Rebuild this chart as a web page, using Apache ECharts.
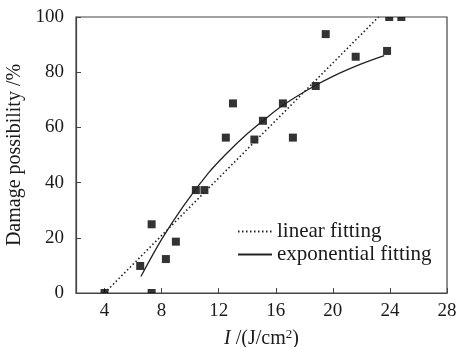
<!DOCTYPE html>
<html>
<head>
<meta charset="utf-8">
<script src="https://cdn.jsdelivr.net/npm/echarts@6/dist/echarts.min.js"></script>
<style>
  html, body { margin: 0; padding: 0; background: #fff; }
  #chart { width: 459px; height: 347px; }
</style>
</head>
<body>
<div id="chart"></div>
<script>
// measured points [I (J/cm2), damage %]
const measured = [
  [4, 0], [7.3, 0], [6.5, 9.8], [7.3, 24.9], [8.3, 12.3], [9.0, 18.6],
  [10.4, 37.3], [11.0, 37.3], [12.5, 56.3], [13.0, 68.7], [14.5, 55.6],
  [15.1, 62.4], [16.5, 68.7], [17.2, 56.3], [18.8, 75.0], [19.5, 93.8],
  [21.6, 85.6], [23.8, 87.7], [23.95, 100], [24.8, 100]
];
// linear fitting line
const linearFit = [[4, 0], [23.2, 100]];
// exponential fitting curve
const expFit = [
  [6.55, 6], [8, 19.4], [9.5, 31.3], [11.3, 43.6], [12.5, 50.3], [14, 57.7],
  [15.1, 62.4], [16.5, 68], [18.4, 74.1], [20, 78.5], [22, 83], [23.6, 86]
];
const xTicks = [4, 8, 12, 16, 20, 24, 28];

const font = 'Liberation Serif';
const axisColor = '#444';
const textColor = '#1a1a1a';

// points sitting on the frame are cut in half by it
const scatterData = measured.map((p) => {
  if (p[1] <= 0) return { value: p, symbolSize: [8, 4], symbolOffset: [0, -2] };
  if (p[1] >= 100) return { value: p, symbolSize: [8, 4], symbolOffset: [0, 2] };
  return { value: p };
});

const chart = echarts.init(document.getElementById('chart'));
chart.setOption({
  animation: false,
  textStyle: { fontFamily: font },
  grid: {
    left: 76, right: 12, top: 17, bottom: 54,
    outerBoundsMode: 'none', containLabel: false,
    show: true, borderColor: axisColor, borderWidth: 1.2
  },
  legend: {
    orient: 'vertical',
    left: 232, top: 216,
    itemWidth: 34, itemHeight: 10, itemGap: 2,
    itemStyle: { opacity: 0 },
    textStyle: { fontFamily: font, fontSize: 21, color: textColor },
    data: ['linear fitting', 'exponential fitting']
  },
  xAxis: {
    type: 'value', min: 2, max: 28,
    name: '{i|I} /(J/cm{sup|2})',
    nameLocation: 'middle', nameGap: 35,
    nameTextStyle: {
      fontFamily: font, fontSize: 20, color: textColor,
      rich: {
        i: { fontFamily: font, fontSize: 20, fontStyle: 'italic', color: textColor },
        sup: { fontFamily: font, fontSize: 13, color: textColor, verticalAlign: 'top', padding: [0, 0, 8, 0] }
      }
    },
    axisLine: { lineStyle: { color: axisColor, width: 1.2 } },
    axisTick: { inside: true, length: 5, customValues: xTicks, lineStyle: { color: axisColor } },
    axisLabel: { customValues: xTicks, fontFamily: font, fontSize: 19, color: textColor, margin: 9 },
    splitLine: { show: false }
  },
  yAxis: {
    type: 'value', min: 0, max: 100, interval: 20,
    name: 'Damage possibility /%',
    nameLocation: 'middle', nameGap: 41,
    nameTextStyle: { fontFamily: font, fontSize: 20, color: textColor },
    axisLine: { show: true, lineStyle: { color: axisColor, width: 1.2 } },
    axisTick: { inside: true, length: 5, lineStyle: { color: axisColor } },
    axisLabel: { fontFamily: font, fontSize: 19, color: textColor, margin: 12 },
    splitLine: { show: false }
  },
  series: [
    {
      type: 'scatter', name: 'measured',
      data: scatterData, symbol: 'rect', symbolSize: 8,
      itemStyle: { color: '#000' }
    },
    {
      type: 'line', name: 'linear fitting',
      data: linearFit, symbol: 'none',
      itemStyle: { color: '#222' },
      lineStyle: { color: '#222', width: 1.6, type: [1.5, 2.5] }
    },
    {
      type: 'line', name: 'exponential fitting',
      data: expFit, symbol: 'none', smooth: 0.3,
      itemStyle: { color: '#222' },
      lineStyle: { color: '#222', width: 1.3 }
    }
  ]
});
</script>
</body>
</html>
